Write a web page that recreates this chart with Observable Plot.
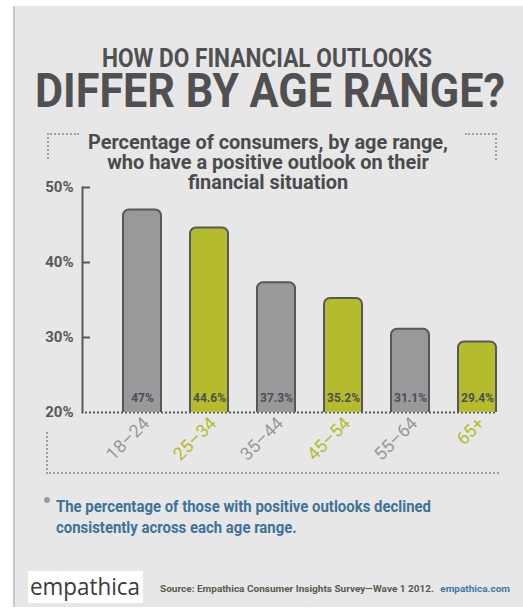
<!DOCTYPE html>
<html>
<head>
<meta charset="utf-8">
<script src="https://cdn.jsdelivr.net/npm/d3@7"></script>
<script src="https://cdn.jsdelivr.net/npm/@observablehq/plot@0.6"></script>
<style>
  html, body { margin: 0; padding: 0; background: #ffffff; }
  body { width: 523px; height: 611px; position: relative; overflow: hidden;
         font-family: Roboto, "Liberation Sans", sans-serif; }
  #panel { position: absolute; left: 13px; top: 6px; width: 510px; height: 601px;
           background: #e7e7e7; border-left: 2px solid #c6c6c6; box-sizing: border-box; }
  .abs { position: absolute; white-space: nowrap; }
  .mid { transform-origin: center; }
  .lft { transform-origin: left center; }
  .t1 { top: 48.5px; font-size: 25px; line-height: 20px; font-weight: bold; color: #505052; }
  .t2 { top: 70.5px; font-size: 48px; line-height: 40px; font-weight: bold; color: #505052; }
  .sub { top: 132px; font-size: 20px; line-height: 20px; font-weight: bold; color: #4b4b4d; text-align: center; }
  .dot-tl { left: 47px; top: 133px; width: 30px; height: 24px;
            border-top: 2px dotted #a0a0a0; border-left: 2px dotted #a0a0a0; }
  .dot-tr { left: 465px; top: 133px; width: 30px; height: 25px;
            border-top: 2px dotted #a0a0a0; border-right: 2px dotted #a0a0a0; }
  .dot-b { left: 46px; top: 432px; width: 451px; height: 40px;
           border-left: 2px dotted #a0a0a0; border-bottom: 2px dotted #a0a0a0; }
  #chart { position: absolute; left: 0; top: 170px; }
  .bullet { left: 44px; top: 497px; width: 6px; height: 6px; border-radius: 3px; background: #9c9c9c; }
  .note { left: 56px; top: 495.5px; font-size: 17px; line-height: 21px; font-weight: bold; color: #3f7298; }
  .logo { left: 28px; top: 571px; width: 115px; height: 32px; background: #ffffff; }
  .logo span { position: absolute; left: 2px; top: 0; font-family: "Open Sans", sans-serif; font-size: 24px;
               line-height: 30px; color: #3a3a3a; }
  .src { left: 160px; top: 584px; font-size: 9.5px; line-height: 10px; font-weight: bold; color: #5a5a4e; }
  .src .url { color: #3b77a6; margin-left: 6px; }
</style>
</head>
<body>
<div id="panel"></div>
<div class="abs t1 mid" data-cx="267" data-w="330">HOW DO FINANCIAL OUTLOOKS</div>
<div class="abs t2 mid" data-cx="270" data-w="470">DIFFER BY AGE RANGE?</div>
<div class="abs dot-tl"></div>
<div class="abs dot-tr"></div>
<div class="abs sub mid" data-cx="268" data-w="360">Percentage of consumers, by age range,<br>who have a positive outlook on their<br>financial situation</div>
<div class="abs dot-b"></div>
<div id="chart"></div>
<div class="abs bullet"></div>
<div class="abs note lft" data-w="375">The percentage of those with positive outlooks declined<br>consistently across each age range.</div>
<div class="abs logo"><span class="lft" data-w="110">empathica</span></div>
<div class="abs src lft" data-w="350">Source: Empathica Consumer Insights Survey—Wave 1 2012.<span class="url">empathica.com</span></div>

<script>
// Share of consumers with a positive financial outlook, by age range
const ages = ["18–24", "25–34", "35–44", "45–54", "55–64", "65+"];
const positive = [47, 44.6, 37.3, 35.2, 31.1, 29.4];
const yTicks = [20, 30, 40, 50];

const gray = "#99999c";
const green = "#b4bc2e";
const ink = "#58585a";

const rows = ages.map((age, i) => ({age, value: positive[i], i}));
const shade = (d) => (d.i % 2 ? green : gray);

const chart = Plot.plot({
  width: 523,
  height: 302,
  marginLeft: 82,
  marginRight: 12,
  marginTop: 17,
  marginBottom: 60,
  style: {
    background: "transparent",
    fontFamily: "Roboto, sans-serif",
    color: ink,
    overflow: "visible"
  },
  x: {domain: ages, paddingInner: 0.435, paddingOuter: 0.2175, insetLeft: 25, axis: null},
  y: {domain: [20, 50], axis: null},
  color: {type: "identity"},
  marks: [
    // dotted baseline at 20%
    Plot.ruleY([20], {stroke: "#5a5a5c", strokeWidth: 2.2, strokeDasharray: "2,2", insetLeft: 3, insetRight: 14}),
    // bars, rounded on top; the part below the 20% floor is clipped away
    Plot.barY(rows, {
      x: "age", y: "value",
      fill: shade, stroke: ink, strokeWidth: 2,
      rx: 6, clip: true
    }),
    // value labels sitting at the foot of each bar
    Plot.text(rows, {
      x: "age", frameAnchor: "bottom", dy: -11,
      text: (d) => d.value + "%",
      fill: "#4e4e50", fontSize: 12, fontWeight: "bold", ariaLabel: "value"
    }),
    // rotated category labels
    Plot.text(rows, {
      x: "age", frameAnchor: "bottom", text: "age",
      rotate: -45, textAnchor: "end", dx: 8, dy: 12,
      fill: shade, fontSize: 18, ariaLabel: "age"
    }),
    // vertical axis line
    Plot.frame({anchor: "left", stroke: ink, strokeWidth: 2}),
    // tick labels
    Plot.axisY(yTicks, {
      anchor: "left", tickSize: 0, tickPadding: 9, label: null,
      tickFormat: (d) => d + "%",
      fill: ink, fontSize: 15, fontWeight: "bold"
    }),
    // short ticks pointing into the plot
    Plot.axisY(yTicks.filter((d) => d > 20), {
      anchor: "left", tickSize: 8, dx: 8, text: null, label: null,
      stroke: ink, strokeWidth: 2
    })
  ]
});

document.getElementById("chart").appendChild(chart);

// condensed lettering: squeeze SVG labels horizontally
function squeeze(selector, k) {
  chart.querySelectorAll(selector).forEach((t) => {
    const len = t.getComputedTextLength();
    t.setAttribute("textLength", (len * k).toFixed(2));
    t.setAttribute("lengthAdjust", "spacingAndGlyphs");
  });
}
squeeze('g[aria-label="value"] text', 0.95);
squeeze('g[aria-label="age"] text', 0.85);
squeeze('g[aria-label="y-axis tick label"] text', 1.0);

// condensed lettering for the HTML headings and notes
document.querySelectorAll("[data-w]").forEach((el) => {
  el.style.display = "inline-block";
  const natural = el.getBoundingClientRect().width;
  const k = +el.dataset.w / natural;
  if (el.dataset.cx) {
    el.style.left = el.dataset.cx + "px";
    el.style.transform = `translateX(-50%) scaleX(${k})`;
  } else {
    el.style.transform = `scaleX(${k})`;
  }
});
</script>
</body>
</html>
